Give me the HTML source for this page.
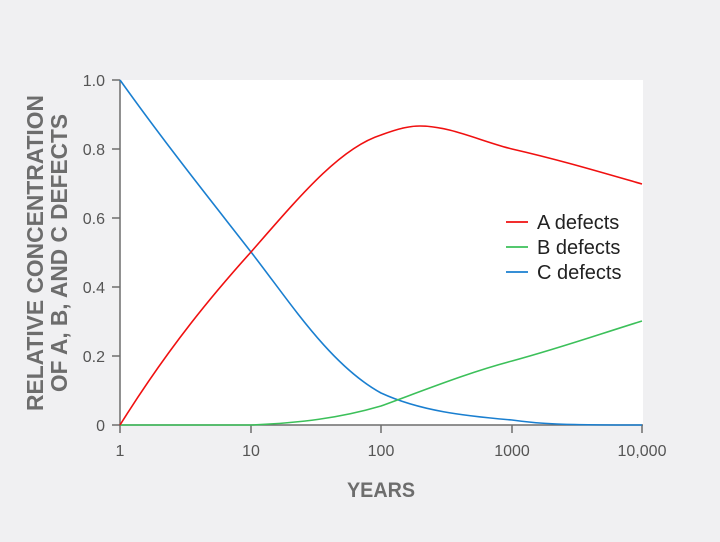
<!DOCTYPE html>
<html><head><style>
body{margin:0;background:#f0f0f2;}
svg{display:block;font-family:"Liberation Sans",sans-serif;}
</style></head><body>
<svg width="720" height="542" viewBox="0 0 720 542">
<rect width="720" height="542" fill="#f0f0f2"/>
<rect x="120" y="80" width="523" height="345" fill="#fff"/>
<g stroke="#6d6d6d" stroke-width="1.5" fill="none">
<line x1="120" y1="80" x2="120" y2="426"/>
<line x1="119" y1="425" x2="643" y2="425"/>
<line x1="112" y1="80" x2="120" y2="80"/><line x1="112" y1="149" x2="120" y2="149"/>
<line x1="112" y1="218" x2="120" y2="218"/><line x1="112" y1="287" x2="120" y2="287"/>
<line x1="112" y1="356" x2="120" y2="356"/><line x1="112" y1="425" x2="120" y2="425"/>
<line x1="120" y1="425" x2="120" y2="433"/><line x1="251" y1="425" x2="251" y2="433"/>
<line x1="381" y1="425" x2="381" y2="433"/><line x1="512" y1="425" x2="512" y2="433"/>
<line x1="642" y1="425" x2="642" y2="433"/>
</g>
<g fill="#555" font-size="16" text-anchor="end">
<text x="105" y="86">1.0</text><text x="105" y="155">0.8</text><text x="105" y="224">0.6</text>
<text x="105" y="293">0.4</text><text x="105" y="362">0.2</text><text x="105" y="431">0</text>
</g>
<g fill="#555" font-size="16" text-anchor="middle">
<text x="120" y="456">1</text><text x="251" y="456">10</text><text x="381" y="456">100</text>
<text x="512" y="456">1000</text><text x="642" y="456">10,000</text>
</g>
<text x="381" y="497" fill="#6d6d6d" font-size="21" font-weight="bold" text-anchor="middle" textLength="68" lengthAdjust="spacingAndGlyphs">YEARS</text>
<g fill="#6d6d6d" font-size="23" font-weight="bold" text-anchor="middle">
<text transform="translate(43,253) rotate(-90)" textLength="316" lengthAdjust="spacingAndGlyphs">RELATIVE CONCENTRATION</text>
<text transform="translate(67,253) rotate(-90)" textLength="278" lengthAdjust="spacingAndGlyphs">OF A, B, AND C DEFECTS</text>
</g>
<g fill="none" stroke-width="1.6">
<path stroke="#1a7fd0" d="M120,80 C170,150 220,212 251,252 C290,302 330,365 381,393 C420,411 465,416 512,420 C540,424 560,425 642,425"/>
<path stroke="#3cc05a" d="M120,425 L251,425 C300,423 340,418 381,406 C430,388 470,372 512,361 C560,348 600,334 642,321"/>
<path stroke="#f01010" d="M120,425 C170,345 215,292 251,252 C300,196 340,148 381,135 C400,128 410,126 420,126 C450,126 480,141 512,149 C560,160 600,172 642,184"/>
</g>
<g stroke-width="1.8">
<line x1="506" y1="222" x2="528" y2="222" stroke="#f01010"/>
<line x1="506" y1="247" x2="528" y2="247" stroke="#3cc05a"/>
<line x1="506" y1="272" x2="528" y2="272" stroke="#1a7fd0"/>
</g>
<g fill="#222" font-size="20">
<text x="537" y="229">A defects</text><text x="537" y="254">B defects</text><text x="537" y="279">C defects</text>
</g>
</svg>
</body></html>
